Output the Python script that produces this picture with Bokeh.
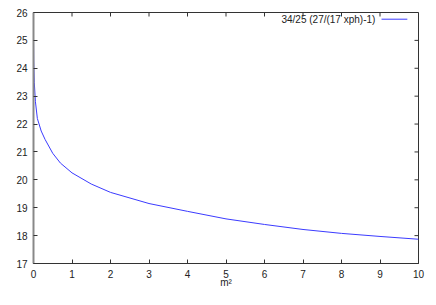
from bokeh.plotting import figure
from bokeh.models import LinearAxis, FixedTicker, Label, Range1d
from bokeh.embed import file_html
from bokeh.resources import INLINE

# data
x_vals = [0.0, 0.005, 0.02, 0.05, 0.1, 0.2, 0.3, 0.5, 0.7, 1.0, 1.5, 2.0, 3.0, 4.0, 5.0, 6.0, 7.0, 8.0, 9.0, 10.0]
y_vals = [25.1, 24.3, 23.5, 22.8, 22.2, 21.75, 21.45, 20.95, 20.6, 20.25, 19.85, 19.55, 19.15, 18.87, 18.6, 18.4, 18.22, 18.08, 17.97, 17.87]
x_ticks = [0, 1, 2, 3, 4, 5, 6, 7, 8, 9, 10]
y_ticks = [17, 18, 19, 20, 21, 22, 23, 24, 25, 26]
series_label = "34/25 (27/(17 xph)-1)"
x_axis_label = "m²"

FONT = "Liberation Sans"
FS = "10px"
LINE = "#3b3bff"
AX = "#333333"

p = figure(width=430, height=300, output_backend="svg", toolbar_location=None,
           x_range=Range1d(0, 10), y_range=Range1d(17, 26),
           x_axis_location=None, y_axis_location=None,
           min_border_left=33, min_border_right=12, min_border_top=12, min_border_bottom=37)
p.background_fill_color = "white"
p.border_fill_color = "white"
p.outline_line_color = AX
p.outline_line_width = 1
p.xgrid.visible = False
p.ygrid.visible = False

def style(ax, ticks):
    ax.ticker = FixedTicker(ticks=ticks)
    ax.major_tick_in = 4
    ax.major_tick_out = 0
    ax.minor_tick_line_color = None
    ax.major_tick_line_color = AX
    ax.axis_line_color = AX
    ax.axis_line_width = 1
    ax.major_label_text_font = FONT
    ax.major_label_text_font_size = FS
    ax.major_label_text_color = "#222222"

bottom = LinearAxis()
style(bottom, x_ticks)
bottom.major_label_standoff = 6
bottom.axis_label = x_axis_label
bottom.axis_label_text_font = FONT
bottom.axis_label_text_font_size = FS
bottom.axis_label_text_font_style = "normal"
bottom.axis_label_text_color = "#222222"
bottom.axis_label_standoff = -4
p.add_layout(bottom, "below")

left = LinearAxis()
style(left, y_ticks)
left.major_label_standoff = 6
left.axis_line_color = "#888888"
left.axis_line_width = 2
p.add_layout(left, "left")

# mirrored inward ticks on the top and right borders
xs, xe = p.x_range.start, p.x_range.end
ys, ye = p.y_range.start, p.y_range.end
tick_y = (ye - ys) * 4 / 251
tick_x = (xe - xs) * 4 / 385
p.segment(x0=x_ticks, y0=[ye] * len(x_ticks), x1=x_ticks, y1=[ye - tick_y] * len(x_ticks),
          line_color=AX, line_width=1)
p.segment(x0=[xe] * len(y_ticks), y0=y_ticks, x1=[xe - tick_x] * len(y_ticks), y1=y_ticks,
          line_color=AX, line_width=1)

p.line(x_vals, y_vals, line_color=LINE, line_width=1)

# legend (key to the right of the text, as in the reference)
key_y = ye - 0.24
p.segment(x0=[xe - 0.96], y0=[key_y], x1=[xe - 0.29], y1=[key_y], line_color=LINE, line_width=1)
p.add_layout(Label(x=xe - 1.12, y=key_y, text=series_label, text_align="right",
                   text_baseline="middle", text_font=FONT, text_font_size=FS,
                   text_color="#222222"))

open("out.html", "w").write(file_html(p, INLINE))
